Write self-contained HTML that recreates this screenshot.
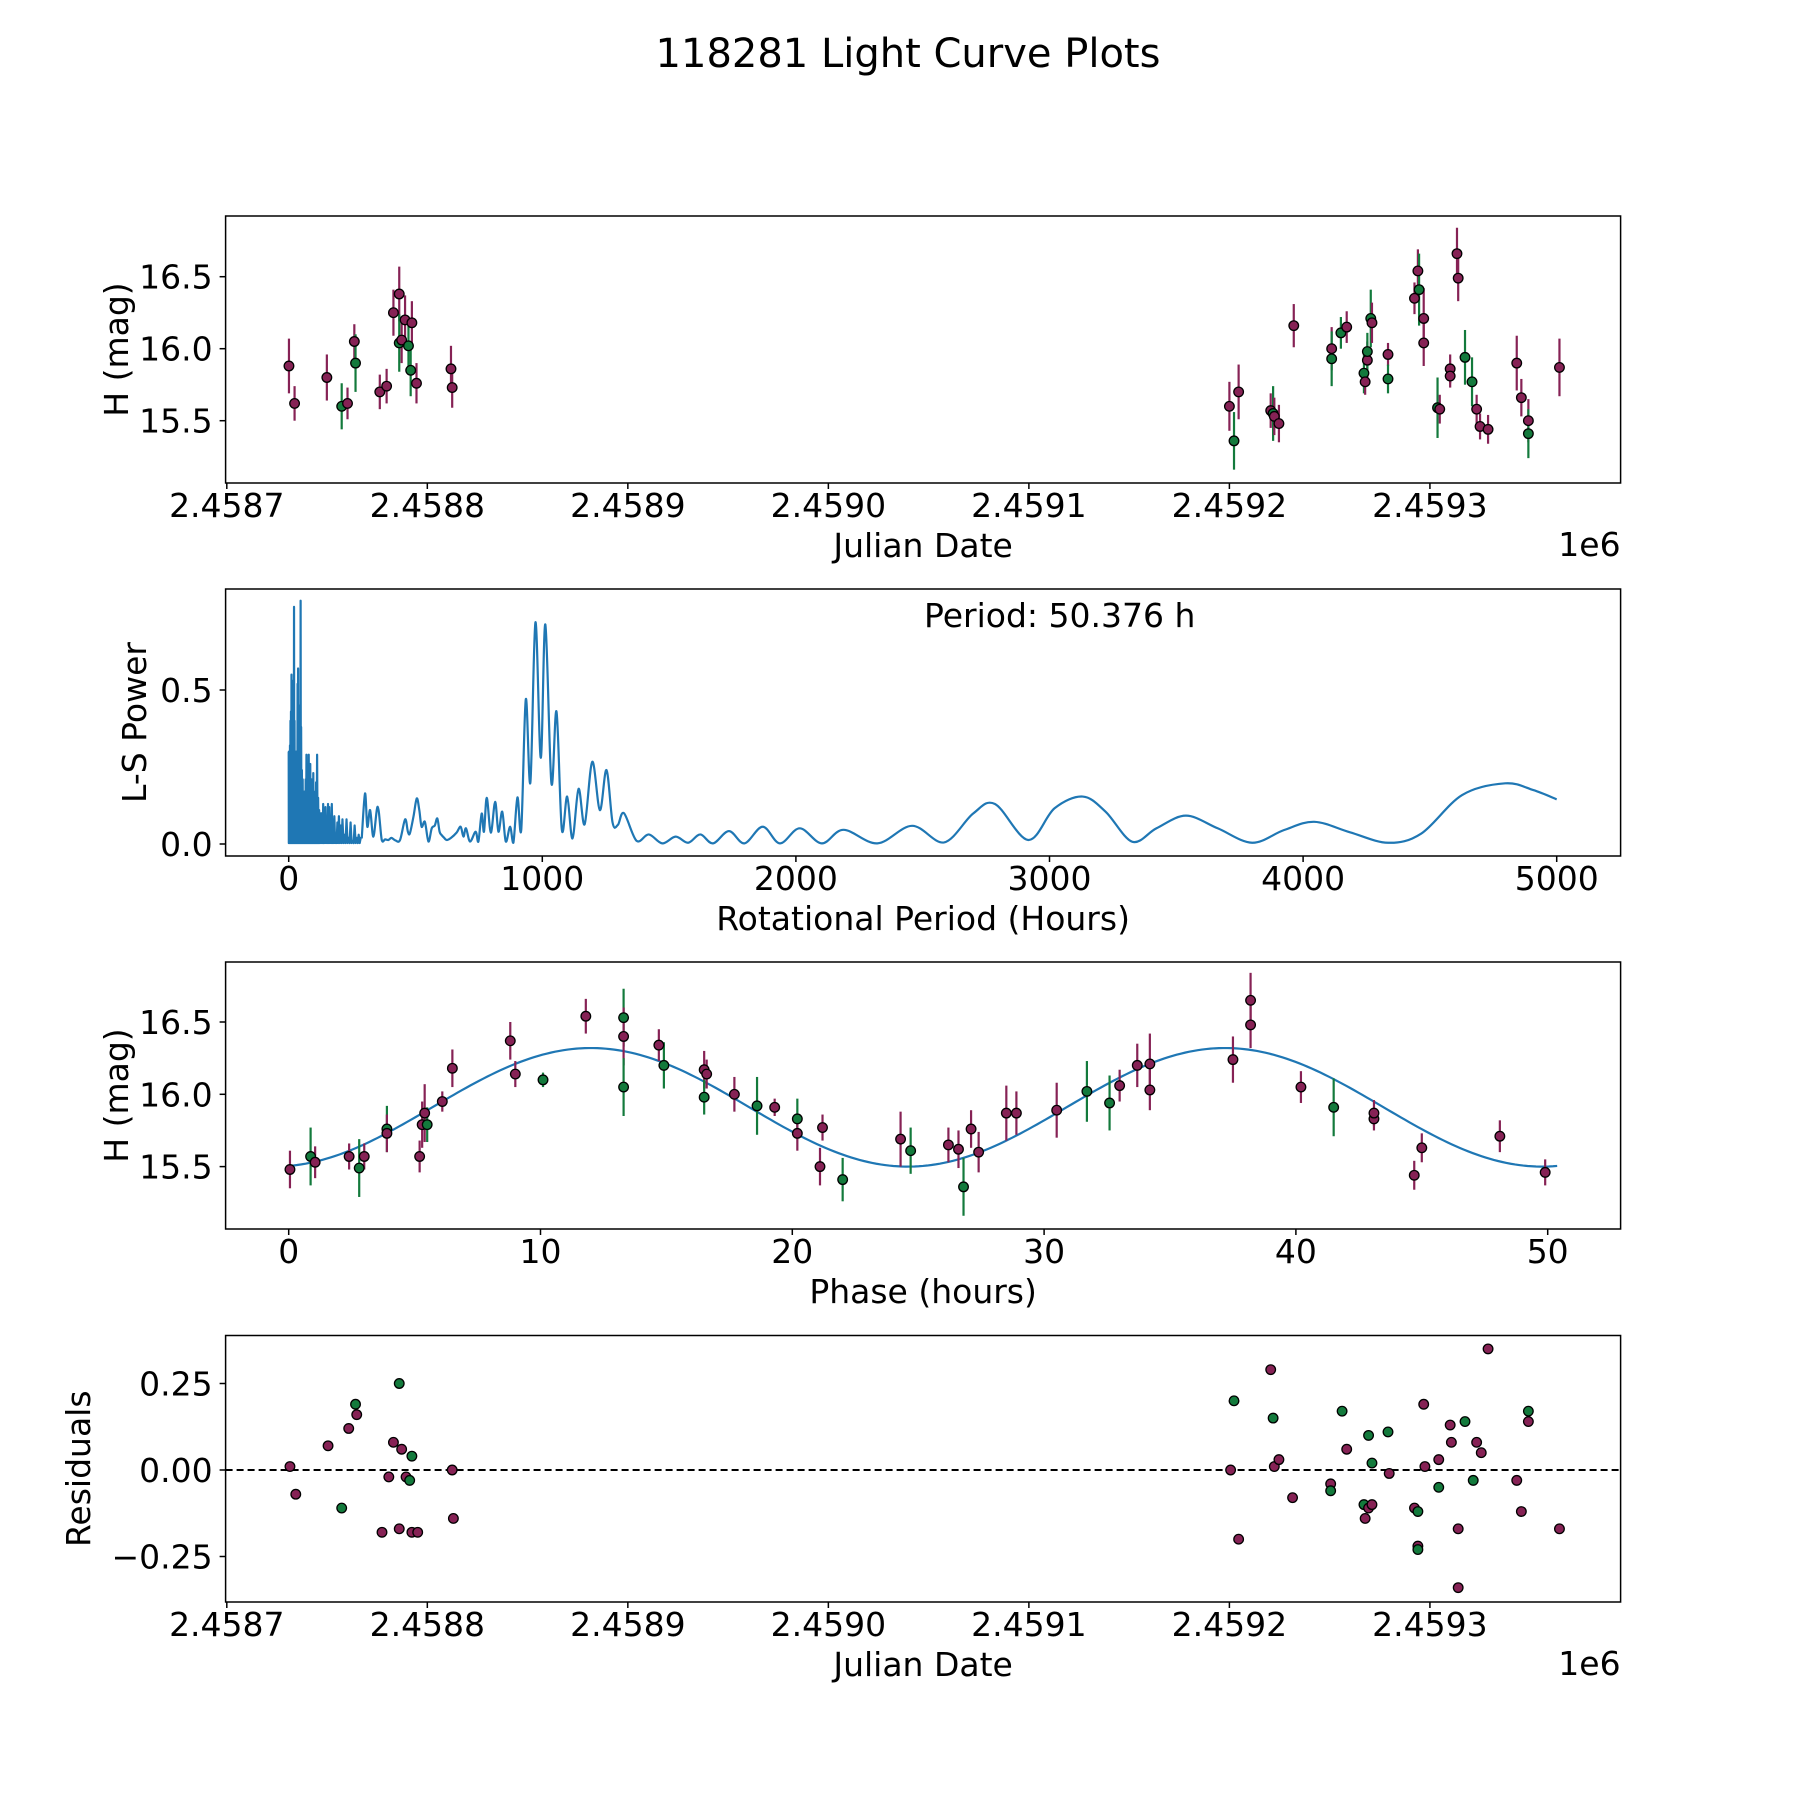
<!DOCTYPE html>
<html>
<head>
<meta charset="utf-8">
<style>
html,body{margin:0;padding:0;background:#fff;}
svg{display:block;}
text{font-family:"DejaVu Sans","Liberation Sans",sans-serif;fill:#000;}
</style>
</head>
<body>
<svg id="fig" width="1800" height="1800" viewBox="0 0 1800 1800" xmlns="http://www.w3.org/2000/svg">
<rect x="0" y="0" width="1800" height="1800" fill="#fff"/>
<text x="908" y="67" font-size="40" text-anchor="middle">118281 Light Curve Plots</text>
</svg>
<script>
// ---------- data: panel 1 (light curve vs Julian Date, days after 2458700) ----------
const lcDay = [31.0,33.8,49.9,57.3,60.2,63.6,64.2,76.3,79.7,83.1,86.0,86.0,87.2,88.9,90.6,92.3,91.7,94.6,111.8,112.4,
  500.0,502.3,504.6,520.6,521.8,522.4,524.7,532.1,551.0,551.0,555.6,558.5,567.1,567.7,568.8,568.8,570.5,571.1,579.1,579.1,
  592.3,594.0,594.6,596.9,596.9,603.8,604.9,610.1,610.1,613.5,614.1,617.5,621.0,623.3,625.0,629.0,643.3,645.6,649.1,649.1,664.6];
const lcMag = [15.88,15.62,15.80,15.60,15.62,16.05,15.90,15.70,15.74,16.25,16.38,16.04,16.06,16.20,16.02,16.18,15.85,15.76,15.86,15.73,
  15.60,15.36,15.70,15.57,15.55,15.53,15.48,16.16,16.00,15.93,16.11,16.15,15.83,15.77,15.92,15.98,16.21,16.18,15.96,15.79,
  16.35,16.54,16.41,16.21,16.04,15.59,15.58,15.86,15.81,16.66,16.49,15.94,15.77,15.58,15.46,15.44,15.90,15.66,15.50,15.41,15.87];
const lcErr = [0.19,0.12,0.16,0.16,0.11,0.12,0.20,0.12,0.12,0.16,0.19,0.20,0.16,0.17,0.20,0.15,0.18,0.14,0.16,0.14,
  0.17,0.20,0.19,0.12,0.19,0.13,0.13,0.15,0.15,0.19,0.11,0.11,0.14,0.09,0.13,0.13,0.20,0.14,0.08,0.10,
  0.11,0.15,0.25,0.21,0.16,0.21,0.10,0.10,0.08,0.18,0.16,0.19,0.17,0.10,0.09,0.10,0.19,0.13,0.15,0.17,0.20];
const lcBand = ['p','p','p','g','p','p','g','p','p','p','p','g','p','p','g','p','g','p','p','p',
  'p','g','p','p','g','p','p','p','p','g','g','p','g','p','p','g','g','p','p','g',
  'p','p','g','p','p','g','p','p','p','p','p','g','g','p','p','p','p','p','p','g','p'];
const jdTicks = [0,100,200,300,400,500,600];
const jdTickLabels = ['2.4587','2.4588','2.4589','2.4590','2.4591','2.4592','2.4593'];
const magTicks = [15.5,16.0,16.5];
const magTickLabels = ['15.5','16.0','16.5'];

// ---------- data: panel 2 (Lomb-Scargle periodogram) ----------
const densePeriod = [1,3,5,7,9,11,13,15,17,19,21,23,25,27,29,31,33,35,37,39,41,43,45,47,49,52,55,58,61,64,67,70,73,76,79,82,85,88,91,94,97,100,104,108,112,116,120,124,128,132,136,140,145,150,155,160,165,170,175,180,186,192,198,205,212,220,228,236,244,252,260,268,276,284];
const densePower = [0.30,0.28,0.32,0.40,0.43,0.55,0.30,0.42,0.53,0.33,0.77,0.40,0.28,0.25,0.30,0.20,0.28,0.52,0.57,0.30,0.22,0.37,0.45,0.79,0.38,0.24,0.21,0.14,0.17,0.12,0.21,0.29,0.17,0.24,0.29,0.14,0.26,0.19,0.21,0.13,0.23,0.17,0.11,0.20,0.29,0.15,0.11,0.08,0.10,0.06,0.13,0.05,0.12,0.08,0.13,0.12,0.06,0.13,0.08,0.09,0.03,0.07,0.09,0.06,0.08,0.03,0.08,0.02,0.07,0.01,0.06,0.02,0.03,0.02];
const smoothPeriod = [288,301,310,321,334,351,367,380,393,405,420,439,459,470,478,492,505,515,524,537,551,564,576,586,595,603,613,623,640,662,678,689,699,715,737,748,761,770,781,797,814,827,842,856,873,886,902,917,935,953,973,994,1012,1036,1056,1077,1098,1119,1143,1167,1197,1227,1253,1277,1298,1322,1372,1420,1473,1526,1575,1623,1673,1736,1797,1869,1937,2015,2102,2188,2321,2458,2584,2699,2785,2916,3020,3131,3221,3327,3422,3538,3663,3799,3924,4044,4185,4335,4466,4627,4797,4908,5000];
const smoothPower = [0.018,0.164,0.056,0.11,0.024,0.121,0.013,0.015,0.013,0.02,0.012,0.013,0.08,0.04,0.035,0.089,0.148,0.11,0.056,0.072,0.008,0.051,0.06,0.083,0.04,0.029,0.02,0.013,0.02,0.037,0.056,0.024,0.051,0.008,0.04,0.008,0.099,0.04,0.15,0.037,0.137,0.04,0.105,0.008,0.056,0.004,0.151,0.046,0.47,0.20,0.72,0.28,0.713,0.197,0.43,0.047,0.154,0.018,0.179,0.064,0.267,0.11,0.24,0.07,0.062,0.10,0.01,0.031,0.002,0.024,0.004,0.031,0.002,0.042,0.002,0.056,0.002,0.051,0.002,0.046,0.002,0.059,0.005,0.099,0.13,0.013,0.116,0.154,0.105,0.007,0.051,0.092,0.051,0.004,0.045,0.072,0.038,0.004,0.034,0.159,0.197,0.175,0.145];
const periodTicks = [0,1000,2000,3000,4000,5000];
const periodTickLabels = ['0','1000','2000','3000','4000','5000'];
const powerTicks = [0,0.5];
const powerTickLabels = ['0.0','0.5'];
const bestPeriod = 50.376;

// ---------- data: panel 3 (phase-folded) ----------
const phHour = [0.05,0.87,1.05,2.4,2.8,3.0,3.9,3.9,5.2,5.3,5.4,5.5,6.1,6.5,8.8,9.0,10.1,11.8,13.3,13.3,13.3,14.7,14.9,16.5,16.5,16.6,17.7,18.6,19.3,20.2,20.2,21.1,21.2,22.0,
  24.3,24.7,26.2,26.6,26.8,27.1,27.4,28.5,28.9,30.5,31.7,32.6,33.0,33.7,34.2,34.2,37.5,38.2,38.2,40.2,41.5,43.1,43.1,44.7,45.0,48.1,49.9];
const phMag = [15.48,15.57,15.53,15.57,15.49,15.57,15.76,15.73,15.57,15.79,15.87,15.79,15.95,16.18,16.37,16.14,16.10,16.54,16.53,16.40,16.05,16.34,16.20,16.17,15.98,16.14,16.00,15.92,15.91,15.83,15.73,15.50,15.77,15.41,
  15.69,15.61,15.65,15.62,15.36,15.76,15.60,15.87,15.87,15.89,16.02,15.94,16.06,16.20,16.21,16.03,16.24,16.65,16.48,16.05,15.91,15.83,15.87,15.44,15.63,15.71,15.46];
const phErr = [0.13,0.20,0.11,0.09,0.20,0.09,0.16,0.13,0.11,0.16,0.20,0.12,0.07,0.13,0.13,0.09,0.05,0.12,0.20,0.20,0.20,0.11,0.16,0.13,0.12,0.10,0.12,0.20,0.06,0.14,0.12,0.13,0.09,0.15,
  0.19,0.16,0.12,0.13,0.20,0.13,0.14,0.19,0.15,0.19,0.21,0.19,0.11,0.15,0.21,0.14,0.16,0.19,0.16,0.11,0.20,0.08,0.09,0.10,0.10,0.11,0.09];
const phBand = ['p','g','p','p','g','p','g','p','p','p','p','g','p','p','p','p','g','p','g','p','g','p','g','p','g','p','p','g','p','g','p','p','p','g',
  'p','g','p','p','g','p','p','p','p','p','g','g','p','p','p','p','p','p','p','p','g','p','p','p','p','p','p'];
const phaseTicks = [0,10,20,30,40,50];
const phaseTickLabels = ['0','10','20','30','40','50'];
const fitMean = 15.91, fitAmp = 0.41, fitPeakHour = 12.0;

// ---------- data: panel 4 (residuals) ----------
const resDay = [31.5,34.4,50.5,57.3,60.8,64.2,64.8,77.4,80.8,83.1,86.0,86.0,87.2,89.4,91.2,92.3,92.3,95.2,112.4,113.0,
  500.6,502.3,504.6,520.6,521.8,522.4,524.7,531.5,550.5,550.5,556.2,558.5,567.1,567.7,569.4,569.4,571.1,571.1,579.1,579.7,
  592.3,594.0,594.0,594.0,596.9,597.5,604.4,604.4,610.1,610.7,614.1,614.1,617.5,621.6,623.3,625.6,629.0,643.3,645.6,649.1,649.1,664.6];
const resVal = [0.01,-0.07,0.07,-0.11,0.12,0.19,0.16,-0.18,-0.02,0.08,-0.17,0.25,0.06,-0.02,-0.03,0.04,-0.18,-0.18,0.0,-0.14,
  0.0,0.20,-0.20,0.29,0.15,0.01,0.03,-0.08,-0.04,-0.06,0.17,0.06,-0.10,-0.14,0.10,-0.11,-0.10,0.02,0.11,-0.01,
  -0.11,-0.12,-0.22,-0.23,0.19,0.01,0.03,-0.05,0.13,0.08,-0.17,-0.34,0.14,-0.03,0.08,0.05,0.35,-0.03,-0.12,0.17,0.14,-0.17];
const resBand = ['p','p','p','g','p','g','p','p','p','p','p','g','p','p','g','g','p','p','p','p',
  'p','g','p','p','g','p','p','p','p','g','g','p','g','p','g','p','p','g','g','p',
  'p','g','p','g','p','p','p','g','p','p','p','p','g','g','p','p','p','p','p','g','p','p'];
const resTicks = [-0.25,0,0.25];
const resTickLabels = ['\u22120.25','0.00','0.25'];

// ---------- geometry ----------
const NS = 'http://www.w3.org/2000/svg';
const svg = document.getElementById('fig');
const AX_L = 225.6, AX_R = 1620.6;
const panels = [{t:216,b:483},{t:589,b:856},{t:962,b:1229},{t:1335.5,b:1602}];
const COL = {p:'#862255', g:'#137a3c'};
const xJD = d => 226.8 + 2.0052*d;
const yMag1 = m => 348.7 - (m-16)*144;
const xP = p => 288.7 + p*0.2536;
const yPow = v => 844 - v*308;
const xPh = h => 288.7 + h*25.18;
const yMag3 = m => 1094.3 - (m-16)*144.6;
const yRes = r => 1470 - r*346;

function el(tag, attrs, parent){
  const e = document.createElementNS(NS, tag);
  for (const k in attrs) e.setAttribute(k, attrs[k]);
  (parent||svg).appendChild(e);
  return e;
}
function txt(s, attrs, parent){
  const e = el('text', attrs, parent);
  e.textContent = s;
  return e;
}

function axes(idx, name, xTicks, xLabels, xf, yTicks, yLabels, yf, xTitle, yTitle, yTitleX, showE6){
  const p = panels[idx];
  const g = el('g', {});
  
  
  const frame = el('rect', {x:AX_L, y:p.t, width:AX_R-AX_L, height:p.b-p.t, fill:'none', stroke:'#000', 'stroke-width':1.5}, g);
  
  
  xTicks.forEach((v,i) => {
    const x = xf(v);
    const tk = el('line', {x1:x, x2:x, y1:p.b, y2:p.b+6, stroke:'#000', 'stroke-width':1.5}, g);
    
    
    const tl = txt(xLabels[i], {x:x, y:p.b+34, 'font-size':33, 'text-anchor':'middle'}, g);
    
    
  });
  yTicks.forEach((v,i) => {
    const y = yf(v);
    const tk = el('line', {x1:AX_L-6, x2:AX_L, y1:y, y2:y, stroke:'#000', 'stroke-width':1.5}, g);
    
    
    const tl = txt(yLabels[i], {x:AX_L-13, y:y+12, 'font-size':33, 'text-anchor':'end'}, g);
    
    
  });
  const xt = txt(xTitle, {x:(AX_L+AX_R)/2, y:p.b+74, 'font-size':33, 'text-anchor':'middle'}, g);
  
  
  const cy = (p.t+p.b)/2;
  const yt = txt(yTitle, {x:yTitleX, y:cy, 'font-size':33, 'text-anchor':'middle', transform:'rotate(-90 '+yTitleX+' '+cy+')'}, g);
  
  
  if (showE6){
    const e6 = txt('1e6', {x:AX_R, y:p.b+73, 'font-size':33, 'text-anchor':'end'}, g);
    
    
  }
}

function errPoints(name, xs, ys, errs, bands, xf, yf){
  const g = el('g', {});
  
  
  xs.forEach((xv,i) => {
    const x = xf(xv);
    const eb = el('line', {x1:x, x2:x, y1:yf(ys[i]+errs[i]), y2:yf(ys[i]-errs[i]), stroke:COL[bands[i]], 'stroke-width':2.2}, g);
    
    
  });
  xs.forEach((xv,i) => {
    const c = el('circle', {cx:xf(xv), cy:yf(ys[i]), r:4.8, fill:COL[bands[i]], stroke:'#000', 'stroke-width':1.3}, g);
    
    
  });
}

// Panel 1
axes(0, 'light-curve', jdTicks, jdTickLabels, xJD, magTicks, magTickLabels, yMag1, 'Julian Date', 'H (mag)', 128, true);
errPoints('light-curve', lcDay, lcMag, lcErr, lcBand, xJD, yMag1);

// Panel 2
axes(1, 'periodogram', periodTicks, periodTickLabels, xP, powerTicks, powerTickLabels, yPow, 'Rotational Period (Hours)', 'L-S Power', 146, false);
(function(){
  const base = 0.003;
  let d = 'M' + xP(0).toFixed(2) + ' ' + yPow(densePower[0]).toFixed(2);
  let prev = 0;
  for (let i=0;i<densePeriod.length;i++){
    const mid = (prev + densePeriod[i]) / 2;
    d += ' L' + xP(mid).toFixed(2) + ' ' + yPow(base).toFixed(2);
    d += ' L' + xP(densePeriod[i]).toFixed(2) + ' ' + yPow(densePower[i]).toFixed(2);
    prev = densePeriod[i];
  }
  d += ' L' + xP(smoothPeriod[0]).toFixed(2) + ' ' + yPow(smoothPower[0]).toFixed(2);
  const dense = el('path', {d:d, fill:'none', stroke:'#1f77b4', 'stroke-width':2.2, 'stroke-linejoin':'round'});
  
  
  const pts = smoothPeriod.map((p,i) => [xP(p), yPow(smoothPower[i])]);
  let s = 'M' + pts[0][0].toFixed(2) + ' ' + pts[0][1].toFixed(2);
  const yMax = yPow(0);
  for (let i=0;i<pts.length-1;i++){
    const p0 = pts[Math.max(0,i-1)], p1 = pts[i], p2 = pts[i+1], p3 = pts[Math.min(pts.length-1,i+2)];
    const c1x = p1[0] + (p2[0]-p0[0])/6, c1y = Math.min(yMax, p1[1] + (p2[1]-p0[1])/6);
    const c2x = p2[0] - (p3[0]-p1[0])/6, c2y = Math.min(yMax, p2[1] - (p3[1]-p1[1])/6);
    s += ' C' + c1x.toFixed(2) + ' ' + c1y.toFixed(2) + ' ' + c2x.toFixed(2) + ' ' + c2y.toFixed(2) + ' ' + p2[0].toFixed(2) + ' ' + p2[1].toFixed(2);
  }
  const smooth = el('path', {d:s, fill:'none', stroke:'#1f77b4', 'stroke-width':2.2, 'stroke-linejoin':'round'});
  
  
  const ann = txt('Period: ' + bestPeriod.toFixed(3) + ' h', {x:924, y:627, 'font-size':33});
  
  
})();

// Panel 3
axes(2, 'phase-curve', phaseTicks, phaseTickLabels, xPh, magTicks, magTickLabels, yMag3, 'Phase (hours)', 'H (mag)', 128, false);
(function(){
  const half = bestPeriod/2;
  let d = '';
  for (let i=0;i<=300;i++){
    const h = bestPeriod*i/300;
    const m = fitMean + fitAmp*Math.cos(2*Math.PI*(h-fitPeakHour)/half);
    d += (i?' L':'M') + xPh(h).toFixed(2) + ' ' + yMag3(m).toFixed(2);
  }
  const fit = el('path', {d:d, fill:'none', stroke:'#1f77b4', 'stroke-width':2.2});
  
  
})();
errPoints('phase-curve', phHour, phMag, phErr, phBand, xPh, yMag3);

// Panel 4
axes(3, 'residuals', jdTicks, jdTickLabels, xJD, resTicks, resTickLabels, yRes, 'Julian Date', 'Residuals', 90, true);
(function(){
  const z = el('line', {x1:AX_L, x2:AX_R, y1:yRes(0), y2:yRes(0), stroke:'#000', 'stroke-width':2, 'stroke-dasharray':'7,4'});
  
  
  const g = el('g', {});
  
  
  resDay.forEach((d,i) => {
    const c = el('circle', {cx:xJD(d), cy:yRes(resVal[i]), r:4.8, fill:COL[resBand[i]], stroke:'#000', 'stroke-width':1.3}, g);
    
    
  });
})();
</script>
</body>
</html>
